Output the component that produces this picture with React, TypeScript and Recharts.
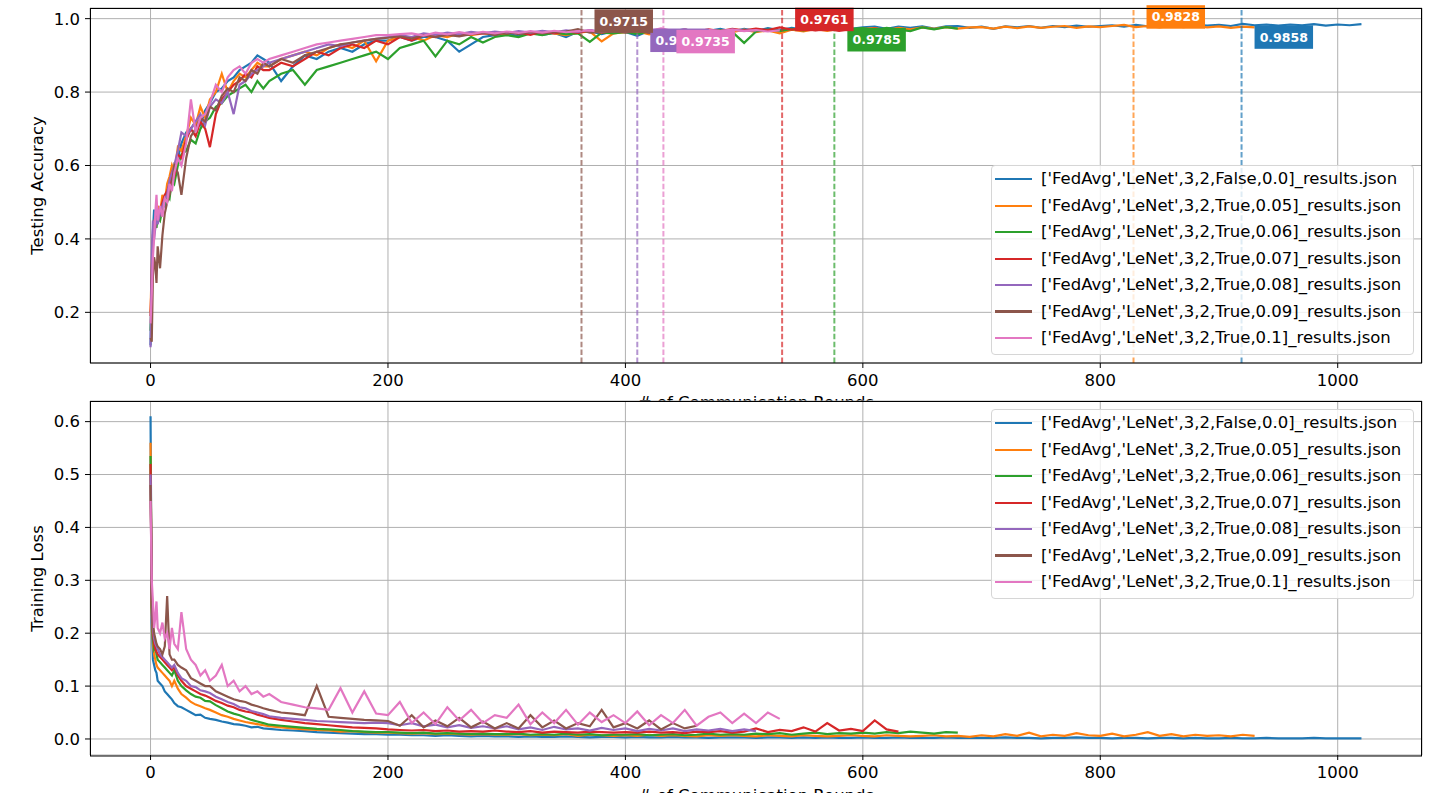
import { CartesianGrid, Line, LineChart, ReferenceDot, ReferenceLine, XAxis, YAxis } from 'recharts';

const FONT = '"DejaVu Sans", "Liberation Sans", sans-serif';
const FS = 16.5;

const colors = ['#1f77b4', '#ff7f0e', '#2ca02c', '#d62728', '#9467bd', '#8c564b', '#e377c2'];

const runLabels = [
  "['FedAvg','LeNet',3,2,False,0.0]_results.json",
  "['FedAvg','LeNet',3,2,True,0.05]_results.json",
  "['FedAvg','LeNet',3,2,True,0.06]_results.json",
  "['FedAvg','LeNet',3,2,True,0.07]_results.json",
  "['FedAvg','LeNet',3,2,True,0.08]_results.json",
  "['FedAvg','LeNet',3,2,True,0.09]_results.json",
  "['FedAvg','LeNet',3,2,True,0.1]_results.json",
];

// sampled rounds: dense at the start, then every 10 rounds from 100
const earlyRounds = [0, 1, 2, 3, 4, 5, 6, 8, 10, 12, 14, 16, 18, 20, 23, 26, 30, 34, 38, 42, 46, 50, 55, 60, 65, 70, 75, 80, 85, 90, 95];
const lateRounds = Array.from({ length: 93 }, (_, i) => 100 + 10 * i);
const rounds = [...earlyRounds, ...lateRounds];

const xTicks = [0, 200, 400, 600, 800, 1000];
const accTicks = [0.2, 0.4, 0.6, 0.8, 1.0];
const lossTicks = [0, 0.1, 0.2, 0.3, 0.4, 0.5, 0.6];

// best round / best accuracy per run (dashed markers)
const bestRounds = [919, 828, 576, 532, 410, 363, 432];
const bestAcc = [0.9858, 0.9828, 0.9785, 0.9761, 0.977, 0.9715, 0.9735];

// ---- testing accuracy ----
const accBlue = [
  0.11, 0.30, 0.42, 0.48, 0.44, 0.47, 0.45, 0.48, 0.50, 0.49, 0.53, 0.55, 0.57, 0.58, 0.62, 0.66, 0.69, 0.70, 0.72, 0.71, 0.75, 0.77, 0.80, 0.81, 0.83, 0.84, 0.86, 0.87, 0.88, 0.90, 0.89,
  0.88, 0.83, 0.87, 0.90, 0.89, 0.91, 0.92, 0.91, 0.93, 0.94,
  0.94, 0.95, 0.94, 0.95, 0.95, 0.94, 0.91, 0.93, 0.95, 0.955,
  0.96, 0.952, 0.963, 0.956, 0.961, 0.95, 0.964, 0.966, 0.958, 0.966,
  0.964, 0.953, 0.967, 0.961, 0.966, 0.971, 0.962, 0.967, 0.972, 0.965,
  0.972, 0.966, 0.974, 0.968, 0.975, 0.97, 0.976, 0.971, 0.977, 0.972,
  0.976, 0.978, 0.972, 0.978, 0.975, 0.979, 0.973, 0.979, 0.98, 0.975,
  0.978, 0.972, 0.979, 0.976, 0.98, 0.975, 0.98, 0.977, 0.981, 0.978,
  0.98, 0.982, 0.978, 0.983, 0.979, 0.982, 0.984, 0.98, 0.983, 0.981,
  0.983, 0.98, 0.9858, 0.982, 0.984, 0.981, 0.984, 0.982, 0.985, 0.981,
  0.984, 0.982, 0.985,
];
const accOrange = [
  0.20, 0.33, 0.40, 0.44, 0.46, 0.45, 0.49, 0.47, 0.52, 0.50, 0.55, 0.57, 0.60, 0.58, 0.65, 0.64, 0.68, 0.73, 0.71, 0.76, 0.73, 0.78, 0.80, 0.85, 0.80, 0.83, 0.85, 0.84, 0.86, 0.88, 0.87,
  0.87, 0.89, 0.90, 0.91, 0.90, 0.92, 0.93, 0.92, 0.94, 0.884,
  0.94, 0.95, 0.95, 0.94, 0.955, 0.95, 0.96, 0.955, 0.96, 0.958,
  0.96, 0.962, 0.958, 0.964, 0.96, 0.955, 0.962, 0.965, 0.938, 0.96,
  0.963, 0.965, 0.957, 0.966, 0.962, 0.955, 0.967, 0.96, 0.968, 0.963,
  0.97, 0.963, 0.968, 0.96, 0.97, 0.965, 0.972, 0.967, 0.973, 0.968,
  0.972, 0.974, 0.969, 0.975, 0.971, 0.976, 0.972, 0.977, 0.973, 0.976,
  0.977, 0.973, 0.978, 0.974, 0.979, 0.975, 0.978, 0.98, 0.975, 0.979,
  0.977, 0.98, 0.9828, 0.977, 0.98, 0.976, 0.981, 0.977, 0.98, 0.976,
  0.979, 0.975, 0.978, 0.976,
];
const accGreen = [
  0.15, 0.28, 0.38, 0.42, 0.44, 0.43, 0.46, 0.45, 0.48, 0.50, 0.52, 0.51, 0.56, 0.55, 0.60, 0.63, 0.64, 0.67, 0.66, 0.70, 0.72, 0.73, 0.76, 0.77, 0.79, 0.80, 0.81, 0.82, 0.80, 0.83, 0.81,
  0.83, 0.85, 0.86, 0.82, 0.86, 0.87, 0.88, 0.89, 0.90, 0.91,
  0.89, 0.92, 0.93, 0.94, 0.897, 0.94, 0.93, 0.95, 0.935, 0.95,
  0.955, 0.95, 0.96, 0.955, 0.962, 0.958, 0.96, 0.937, 0.962, 0.96,
  0.964, 0.958, 0.966, 0.96, 0.967, 0.962, 0.968, 0.963, 0.969, 0.964,
  0.934, 0.965, 0.97, 0.966, 0.972, 0.968, 0.974, 0.9785, 0.971, 0.972,
  0.974, 0.969, 0.975, 0.97, 0.966, 0.976, 0.971, 0.977, 0.973,
];
const accRed = [
  0.19, 0.30, 0.41, 0.45, 0.43, 0.46, 0.48, 0.47, 0.50, 0.52, 0.53, 0.55, 0.58, 0.57, 0.63, 0.62, 0.67, 0.70, 0.68, 0.72, 0.70, 0.65, 0.74, 0.78, 0.80, 0.82, 0.83, 0.85, 0.84, 0.87, 0.86,
  0.86, 0.88, 0.87, 0.89, 0.91, 0.90, 0.92, 0.93, 0.92, 0.94,
  0.93, 0.95, 0.94, 0.955, 0.95, 0.96, 0.955, 0.958, 0.96, 0.962,
  0.96, 0.963, 0.956, 0.965, 0.96, 0.966, 0.961, 0.968, 0.962, 0.967,
  0.966, 0.968, 0.962, 0.969, 0.964, 0.97, 0.965, 0.971, 0.966, 0.972,
  0.968, 0.973, 0.969, 0.9761, 0.97, 0.974, 0.968, 0.973, 0.967, 0.972,
  0.968, 0.973, 0.969, 0.972,
];
const accPurple = [
  0.105, 0.35, 0.45, 0.40, 0.43, 0.46, 0.44, 0.47, 0.49, 0.51, 0.52, 0.56, 0.58, 0.60, 0.64, 0.69, 0.68, 0.70, 0.72, 0.74, 0.71, 0.76, 0.78, 0.77, 0.80, 0.74, 0.82, 0.83, 0.85, 0.86, 0.87,
  0.88, 0.89, 0.90, 0.91, 0.92, 0.93, 0.925, 0.935, 0.94, 0.945,
  0.95, 0.955, 0.95, 0.96, 0.956, 0.962, 0.958, 0.964, 0.96, 0.965,
  0.961, 0.966, 0.962, 0.967, 0.963, 0.968, 0.964, 0.969, 0.965, 0.97,
  0.966, 0.977, 0.967, 0.971, 0.966, 0.97, 0.965, 0.969, 0.966, 0.97,
  0.967, 0.968,
];
const accBrown = [
  0.13, 0.12, 0.30, 0.35, 0.33, 0.28, 0.38, 0.32, 0.41, 0.47, 0.50, 0.52, 0.55, 0.60, 0.58, 0.52, 0.62, 0.68, 0.70, 0.73, 0.72, 0.76, 0.75, 0.79, 0.81, 0.80, 0.84, 0.83, 0.86, 0.85, 0.88,
  0.87, 0.89, 0.88, 0.90, 0.91, 0.92, 0.93, 0.935, 0.94, 0.945,
  0.948, 0.952, 0.946, 0.955, 0.95, 0.956, 0.952, 0.958, 0.962, 0.955,
  0.963, 0.958, 0.964, 0.96, 0.963, 0.965, 0.9715, 0.962, 0.964, 0.967,
  0.962, 0.967, 0.961, 0.966, 0.968, 0.962, 0.967,
];
const accPink = [
  0.17, 0.25, 0.35, 0.40, 0.47, 0.52, 0.45, 0.49, 0.46, 0.51, 0.50, 0.55, 0.53, 0.58, 0.62, 0.60, 0.66, 0.78, 0.69, 0.73, 0.74, 0.77, 0.82, 0.80, 0.84, 0.86, 0.87, 0.85, 0.88, 0.89, 0.88,
  0.89, 0.90, 0.91, 0.92, 0.93, 0.935, 0.94, 0.945, 0.95, 0.955,
  0.955, 0.958, 0.96, 0.954, 0.962, 0.957, 0.963, 0.958, 0.964, 0.96,
  0.965, 0.961, 0.966, 0.962, 0.967, 0.963, 0.966, 0.968, 0.963, 0.969,
  0.965, 0.969, 0.966, 0.9735, 0.966, 0.97, 0.965, 0.969, 0.966, 0.97,
  0.966, 0.969, 0.965, 0.968,
];

// ---- training loss ----
const lossBlue = [
  0.61, 0.22, 0.15, 0.14, 0.13, 0.125, 0.11, 0.105, 0.1, 0.09, 0.085, 0.08, 0.075, 0.068, 0.062, 0.06, 0.055, 0.05, 0.045, 0.046, 0.04, 0.038, 0.036, 0.033, 0.031, 0.028, 0.027, 0.025, 0.022, 0.023, 0.02,
  0.019, 0.017, 0.016, 0.015, 0.013, 0.012, 0.011, 0.01, 0.009, 0.009,
  0.008, 0.008, 0.007, 0.007, 0.006, 0.007, 0.006, 0.005, 0.006, 0.005,
  0.005, 0.004, 0.005, 0.004, 0.004, 0.005, 0.004, 0.003, 0.004, 0.004,
  0.003, 0.004, 0.003, 0.003, 0.004, 0.003, 0.003, 0.002, 0.003, 0.003,
  0.003, 0.002, 0.003, 0.003, 0.002, 0.003, 0.002, 0.003, 0.002, 0.002,
  0.003, 0.002, 0.002, 0.003, 0.002, 0.002, 0.002, 0.003, 0.002, 0.002,
  0.002, 0.002, 0.003, 0.002, 0.002, 0.001, 0.002, 0.002, 0.003, 0.002,
  0.002, 0.001, 0.002, 0.002, 0.001, 0.002, 0.002, 0.001, 0.002, 0.001,
  0.001, 0.002, 0.001, 0.001, 0.002, 0.001, 0.001, 0.001, 0.002, 0.001,
  0.001, 0.001, 0.001,
];
const lossOrange = [
  0.56, 0.24, 0.18, 0.16, 0.15, 0.14, 0.135, 0.13, 0.125, 0.12, 0.115, 0.11, 0.1, 0.11, 0.095, 0.085, 0.078, 0.07, 0.065, 0.062, 0.058, 0.055, 0.05, 0.045, 0.042, 0.038, 0.035, 0.032, 0.03, 0.028, 0.026,
  0.024, 0.022, 0.02, 0.018, 0.017, 0.016, 0.014, 0.015, 0.013, 0.012,
  0.012, 0.011, 0.01, 0.011, 0.009, 0.01, 0.009, 0.008, 0.009, 0.008,
  0.008, 0.009, 0.007, 0.008, 0.007, 0.009, 0.006, 0.008, 0.007, 0.006,
  0.007, 0.006, 0.008, 0.006, 0.007, 0.006, 0.005, 0.007, 0.006, 0.007,
  0.006, 0.005, 0.007, 0.006, 0.005, 0.007, 0.006, 0.005, 0.006, 0.007,
  0.006, 0.005, 0.007, 0.006, 0.005, 0.006, 0.007, 0.005, 0.006, 0.004,
  0.007, 0.005, 0.009, 0.006, 0.012, 0.005, 0.008, 0.006, 0.011, 0.007,
  0.006, 0.01, 0.005, 0.008, 0.013, 0.006, 0.009, 0.005, 0.008, 0.006,
  0.007, 0.005, 0.008, 0.006,
];
const lossGreen = [
  0.535, 0.25, 0.19, 0.17, 0.175, 0.16, 0.15, 0.145, 0.14, 0.135, 0.13, 0.125, 0.12, 0.13, 0.11, 0.1, 0.092, 0.085, 0.08, 0.078, 0.072, 0.071, 0.064, 0.058, 0.052, 0.048, 0.045, 0.04, 0.036, 0.033, 0.03,
  0.027, 0.025, 0.023, 0.021, 0.019, 0.018, 0.017, 0.015, 0.014, 0.013,
  0.013, 0.012, 0.011, 0.012, 0.01, 0.011, 0.01, 0.009, 0.01, 0.009,
  0.009, 0.01, 0.008, 0.009, 0.008, 0.01, 0.008, 0.009, 0.007, 0.008,
  0.008, 0.009, 0.007, 0.008, 0.009, 0.007, 0.008, 0.01, 0.008, 0.009,
  0.008, 0.01, 0.009, 0.011, 0.008, 0.01, 0.012, 0.009, 0.011, 0.01,
  0.012, 0.01, 0.013, 0.011, 0.014, 0.012, 0.01, 0.013, 0.012,
];
const lossRed = [
  0.52, 0.26, 0.2, 0.18, 0.17, 0.165, 0.16, 0.155, 0.15, 0.145, 0.14, 0.135, 0.13, 0.137, 0.12, 0.11, 0.1, 0.095, 0.09, 0.085, 0.082, 0.078, 0.072, 0.068, 0.063, 0.06, 0.055, 0.052, 0.05, 0.046, 0.043,
  0.04, 0.036, 0.033, 0.03, 0.028, 0.026, 0.024, 0.022, 0.021, 0.02,
  0.018, 0.017, 0.016, 0.017, 0.015, 0.016, 0.014, 0.015, 0.014, 0.016,
  0.014, 0.013, 0.015, 0.012, 0.014, 0.013, 0.012, 0.014, 0.013, 0.012,
  0.013, 0.012, 0.014, 0.012, 0.013, 0.011, 0.014, 0.013, 0.015, 0.012,
  0.014, 0.02, 0.013, 0.017, 0.015, 0.022, 0.014, 0.03, 0.016, 0.019,
  0.015, 0.035, 0.018, 0.014,
];
const lossPurple = [
  0.50, 0.27, 0.21, 0.19, 0.18, 0.175, 0.17, 0.16, 0.155, 0.15, 0.145, 0.14, 0.135, 0.14, 0.125, 0.115, 0.11, 0.1, 0.098, 0.092, 0.09, 0.087, 0.08, 0.075, 0.07, 0.066, 0.06, 0.058, 0.053, 0.05, 0.047,
  0.043, 0.04, 0.038, 0.036, 0.034, 0.033, 0.032, 0.031, 0.03, 0.031,
  0.03, 0.026, 0.03, 0.024, 0.027, 0.022, 0.026, 0.021, 0.024, 0.02,
  0.024, 0.018, 0.022, 0.017, 0.023, 0.018, 0.02, 0.016, 0.021, 0.017,
  0.02, 0.015, 0.019, 0.016, 0.02, 0.015, 0.018, 0.016, 0.019, 0.015,
  0.018, 0.015,
];
const lossBrown = [
  0.48, 0.28, 0.22, 0.2, 0.19, 0.18, 0.175, 0.17, 0.16, 0.175, 0.27, 0.16, 0.15, 0.15, 0.14, 0.135, 0.13, 0.115, 0.11, 0.105, 0.1, 0.1, 0.09, 0.085, 0.08, 0.075, 0.072, 0.07, 0.065, 0.062, 0.058,
  0.055, 0.05, 0.048, 0.045, 0.1, 0.042, 0.04, 0.038, 0.036, 0.035,
  0.034, 0.025, 0.045, 0.022, 0.035, 0.024, 0.04, 0.022, 0.033, 0.02,
  0.03, 0.02, 0.045, 0.022, 0.035, 0.02, 0.03, 0.024, 0.055, 0.022,
  0.03, 0.02, 0.035, 0.018, 0.03, 0.02, 0.025,
];
const lossPink = [
  0.45, 0.3, 0.26, 0.21, 0.23, 0.26, 0.21, 0.2, 0.22, 0.19, 0.2, 0.17, 0.21, 0.18, 0.17, 0.24, 0.17, 0.15, 0.14, 0.12, 0.13, 0.11, 0.12, 0.14, 0.1, 0.11, 0.09, 0.1, 0.085, 0.09, 0.08,
  0.085, 0.07, 0.065, 0.06, 0.058, 0.055, 0.096, 0.05, 0.09, 0.048,
  0.045, 0.07, 0.03, 0.05, 0.028, 0.06, 0.035, 0.055, 0.03, 0.045,
  0.04, 0.065, 0.028, 0.05, 0.03, 0.055, 0.027, 0.05, 0.032, 0.045,
  0.03, 0.052, 0.026, 0.045, 0.03, 0.055, 0.025, 0.042, 0.05, 0.03,
  0.048, 0.03, 0.05, 0.038,
];

const accSeries = [accBlue, accOrange, accGreen, accRed, accPurple, accBrown, accPink];
const lossSeries = [lossBlue, lossOrange, lossGreen, lossRed, lossPurple, lossBrown, lossPink];

const toPoints = (vals: number[]) => vals.map((y, i) => ({ x: rounds[i], y }));

const BestTag = (props: any) => {
  const { cx, cy, color, text, below } = props;
  const w = 58.5;
  const h = 23.5;
  const left = cx + 13;
  const mid = cy + (below ? 13.2 : -8);
  return (
    <g>
      <rect x={left} y={mid - h / 2} width={w} height={h} fill={color} />
      <text x={left + w / 2} y={mid + 4.5} textAnchor="middle" fill="#fff" fontSize={12.5} fontWeight="bold" fontFamily={FONT}>
        {text}
      </text>
    </g>
  );
};

function Panel({ series, domain, ticks, withBest }: { series: number[][]; domain: [number, number]; ticks: number[]; withBest: boolean }) {
  const tickStyle = { fill: '#000', fontSize: FS, fontFamily: FONT };
  return (
    <LineChart width={1440} height={420} margin={{ top: 8, right: 18, bottom: 0, left: 0 }}>
      <CartesianGrid stroke="#b0b0b0" strokeWidth={1} fill="#ffffff" fillOpacity={1} />
      <XAxis
        type="number"
        dataKey="x"
        domain={[-51, 1071]}
        ticks={xTicks}
        interval={0}
        allowDataOverflow
        height={withBest ? 57 : 58}
        axisLine={false}
        tickLine={{ stroke: '#000' }}
        tickSize={5}
        tickMargin={6.5}
        tick={tickStyle}
      />
      <YAxis
        type="number"
        domain={domain}
        ticks={ticks}
        interval={0}
        allowDataOverflow
        width={90}
        axisLine={false}
        tickLine={{ stroke: '#000' }}
        tickSize={5}
        tickMargin={5}
        tick={tickStyle}
        tickFormatter={(v: number) => v.toFixed(1)}
      />
      {series.map((vals, i) => (
        <Line key={i} data={toPoints(vals)} dataKey="y" stroke={colors[i]} strokeWidth={2.2} dot={false} isAnimationActive={false} />
      ))}
      {withBest &&
        bestRounds.map((r, i) => (
          <ReferenceLine key={`l${i}`} x={r} stroke={colors[i]} strokeOpacity={0.7} strokeWidth={2} strokeDasharray="5.5 2.4" />
        ))}
      {withBest &&
        bestRounds.map((r, i) => (
          <ReferenceDot
            key={`d${i}`}
            x={r}
            y={bestAcc[i]}
            r={0}
            shape={(p: any) => <BestTag cx={p.cx} cy={p.cy} color={colors[i]} text={bestAcc[i].toFixed(4)} below={i % 2 === 0} />}
          />
        ))}
    </LineChart>
  );
}

function Frame({ yLabel }: { yLabel: string }) {
  return (
    <svg width={1440} height={420} style={{ position: 'absolute', left: 0, top: 0 }}>
      <rect x={90.5} y={8.5} width={1331} height={354.5} fill="none" stroke="#000" strokeWidth={1} />
      <text x={756} y={407.5} textAnchor="middle" fontSize={FS} fontFamily={FONT} fill="#000">
        # of Communication Rounds
      </text>
      <text transform="translate(43,185.5) rotate(-90)" textAnchor="middle" fontSize={FS} fontFamily={FONT} fill="#000">
        {yLabel}
      </text>
    </svg>
  );
}

function LegendBox({ top }: { top: number }) {
  return (
    <div
      style={{
        position: 'absolute',
        left: 991,
        top,
        width: 423,
        height: 190,
        boxSizing: 'border-box',
        border: '1px solid #d6d6d6',
        borderRadius: 4,
        background: 'rgba(255,255,255,0.8)',
      }}
    >
      {runLabels.map((label, i) => (
        <div key={label} style={{ position: 'absolute', left: 0, top: 0.3 + i * 26.45, height: 26, display: 'flex', alignItems: 'center' }}>
          <div style={{ width: 36.4, height: 2.2, marginLeft: 3.3, marginRight: 9.3, background: colors[i] }} />
          <span style={{ fontSize: FS, lineHeight: '26px', whiteSpace: 'nowrap', color: '#000', fontFamily: FONT }}>{label}</span>
        </div>
      ))}
    </div>
  );
}

export default function App() {
  return (
    <div style={{ position: 'absolute', left: 0, top: 0, width: 1440, height: 793, overflow: 'hidden', background: '#fff', fontFamily: FONT }}>
      <div style={{ position: 'absolute', left: 0, top: 0 }}>
        <Panel series={accSeries} domain={[0.062, 1.029]} ticks={accTicks} withBest />
        <Frame yLabel="Testing Accuracy" />
        <LegendBox top={165} />
      </div>
      <div style={{ position: 'absolute', left: 0, top: 393 }}>
        <Panel series={lossSeries} domain={[-0.0303, 0.639]} ticks={lossTicks} withBest={false} />
        <Frame yLabel="Training Loss" />
        <LegendBox top={16} />
      </div>
    </div>
  );
}
